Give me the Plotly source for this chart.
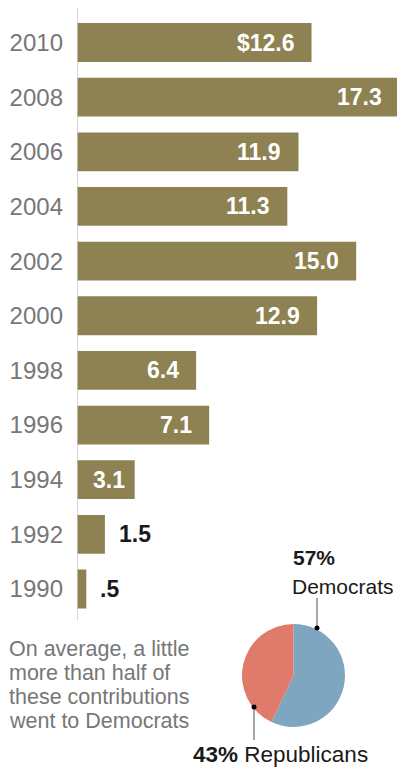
import plotly.graph_objects as go

years = ["2010", "2008", "2006", "2004", "2002", "2000", "1998", "1996", "1994", "1992", "1990"]
values = [12.6, 17.3, 11.9, 11.3, 15.0, 12.9, 6.4, 7.1, 3.1, 1.5, 0.5]
labels = ["$12.6", "17.3", "11.9", "11.3", "15.0", "12.9", "6.4", "7.1", "3.1", "1.5", ".5"]
inside = [True, True, True, True, True, True, True, True, True, False, False]

pie_labels = ["Democrats", "Republicans"]
pie_values = [57, 43]

# page body has an 8px default margin; work in reference pixels and offset
OFF = 8
W, H = 405 - OFF, 768 - OFF
BAR = "#8E8252"
GRAY = "#777777"
FONT = "Liberation Sans"

def fx(px):
    return (px - OFF) / W

def fy(py):
    return 1 - (py - OFF) / H

fig = go.Figure()
fig.add_trace(go.Bar(
    x=values, y=years, orientation="h",
    marker=dict(color=BAR, line=dict(width=0)),
    hoverinfo="skip", showlegend=False,
))

fig.add_trace(go.Pie(
    labels=pie_labels, values=pie_values,
    marker=dict(colors=["#7FA6C1", "#E07B6C"], line=dict(width=0)),
    sort=False, direction="clockwise", rotation=0,
    textinfo="none", hoverinfo="skip", showlegend=False,
    domain=dict(x=[fx(242), fx(345)], y=[fy(728), fy(623)]),
))

annotations = []
for i, (v, lab, ins) in enumerate(zip(values, labels, inside)):
    if ins:
        annotations.append(dict(x=v, y=i, xref="x", yref="y", text="<b>%s</b>" % lab,
                                showarrow=False, xanchor="right",
                                xshift=-15 if v >= 4 else -8,
                                font=dict(family=FONT, size=23, color="white")))
    else:
        annotations.append(dict(x=v, y=i, xref="x", yref="y", text="<b>%s</b>" % lab,
                                showarrow=False, xanchor="left", xshift=12,
                                font=dict(family=FONT, size=23, color="#1a1a1a")))

note_lines = ["On average, a little", "more than half of", "these contributions", "went to Democrats"]
note_y = [649, 673, 697, 721]
for t, yy in zip(note_lines, note_y):
    annotations.append(dict(x=fx(8), y=fy(yy), xref="paper", yref="paper", text=t,
                            showarrow=False, xanchor="left", yanchor="middle",
                            borderpad=0,
                            font=dict(family=FONT, size=21.5, color=GRAY)))

annotations += [
    dict(x=fx(291), y=fy(557), xref="paper", yref="paper", text="<b>57%</b>",
         showarrow=False, xanchor="left", yanchor="middle",
         font=dict(family=FONT, size=21, color="#1a1a1a")),
    dict(x=fx(290), y=fy(586), xref="paper", yref="paper", text="Democrats",
         showarrow=False, xanchor="left", yanchor="middle",
         font=dict(family=FONT, size=21, color="#1a1a1a")),
    dict(x=fx(191), y=fy(754), xref="paper", yref="paper", text="<b>43%</b> Republicans",
         showarrow=False, xanchor="left", yanchor="middle",
         font=dict(family=FONT, size=22.5, color="#1a1a1a")),
]

shapes = [
    dict(type="line", xref="x", yref="paper", x0=0, x1=0, y0=fy(620), y1=fy(8),
         line=dict(color="#c8c8c8", width=1.5)),
    dict(type="line", xref="paper", yref="paper", x0=fx(317), x1=fx(317), y0=fy(628), y1=fy(598),
         line=dict(color="#888888", width=1.5)),
    dict(type="line", xref="paper", yref="paper", x0=fx(254), x1=fx(254), y0=fy(707), y1=fy(740),
         line=dict(color="#888888", width=1.5)),
    dict(type="circle", xref="paper", yref="paper", x0=fx(314.5), x1=fx(319.5), y0=fy(630.5), y1=fy(625.5),
         fillcolor="black", line=dict(width=0)),
    dict(type="circle", xref="paper", yref="paper", x0=fx(251.5), x1=fx(256.5), y0=fy(709.5), y1=fy(704.5),
         fillcolor="black", line=dict(width=0)),
]

fig.update_layout(
    width=W, height=H,
    margin=dict(l=0, r=0, t=0, b=0),
    paper_bgcolor="white", plot_bgcolor="white",
    bargap=0.29,
    xaxis=dict(domain=[fx(77), fx(399)], range=[0, 17.3], visible=False, fixedrange=True),
    yaxis=dict(domain=[fy(616.3), fy(15.2)], type="category", categoryorder="array",
               categoryarray=years, range=[10.5, -0.5], autorange=False,
               showgrid=False, zeroline=False,
               showline=False, ticks="", ticklabelstandoff=13,
               tickfont=dict(family=FONT, size=24, color=GRAY)),
    annotations=annotations,
    shapes=shapes,
)

fig.write_html("out.html")
